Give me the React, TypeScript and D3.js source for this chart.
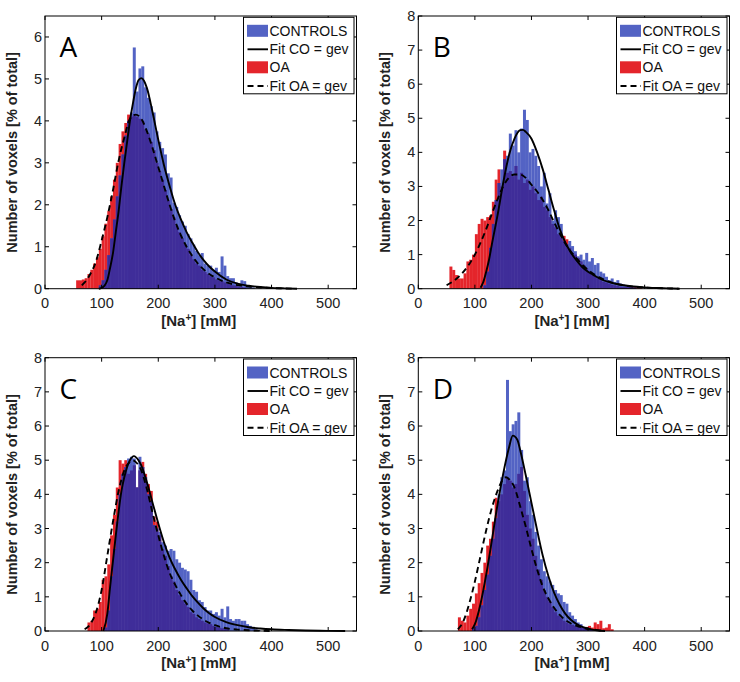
import React from "react";
import * as d3 from "d3";

// ---------- data ----------
const BIN = 5;
const xTicks = [0, 100, 200, 300, 400, 500];
const panelLetters = ["A", "B", "C", "D"];
const yMaxes = [6.5, 8, 8, 8];
const yTicksA = [0, 1, 2, 3, 4, 5, 6];
const yTicksBCD = [0, 1, 2, 3, 4, 5, 6, 7, 8];
const legendLabels = ["CONTROLS", "Fit CO = gev", "OA", "Fit OA = gev"];

// Panel A
const aCoStart = 95;
const aCoVals = [0.08, 0.2, 0.45, 0.8, 1.2, 1.65, 2.2, 2.7, 3.2, 3.65, 4.0, 4.2, 5.75, 4.7, 5.25, 5.3, 4.8, 4.55, 4.35, 4.2, 3.75, 3.5, 3.35, 3.2, 2.75, 2.65, 2.05, 1.95, 1.75, 1.6, 1.5, 1.3, 1.2, 1.05, 0.9, 0.8, 0.85, 0.6, 0.55, 0.55, 0.45, 0.5, 0.4, 0.77, 0.55, 0.3, 0.25, 0.25, 0.15, 0.12, 0.2, 0.18, 0.05, 0.04, 0.03];
const aOaStart = 55;
const aOaVals = [0.2, 0.2, 0.22, 0.25, 0.35, 0.45, 0.6, 0.75, 0.95, 1.25, 1.55, 1.85, 2.2, 2.6, 3.0, 3.45, 3.75, 3.95, 4.15, 4.1, 4.15, 4.1, 4.05, 4.0, 3.8, 3.7, 3.5, 3.3, 3.0, 2.8, 2.6, 2.35, 2.1, 1.9, 1.7, 1.5, 1.35, 1.2, 1.05, 0.95, 0.8, 0.7, 0.6, 0.55, 0.45, 0.4, 0.35, 0.3, 0.27, 0.22, 0.2, 0.18, 0.15, 0.12, 0.1, 0.08, 0.07, 0.05, 0.04, 0.03];
const aCoFitX = [95, 100, 105, 110, 115, 120, 125, 130, 135, 140, 145, 150, 155, 160, 165, 170, 175, 180, 190, 200, 210, 220, 230, 240, 250, 260, 270, 280, 290, 300, 320, 340, 360, 380, 400, 420, 445];
const aCoFitY = [0, 0.02, 0.07, 0.2, 0.5, 0.85, 1.35, 1.85, 2.45, 3.0, 3.5, 4.0, 4.4, 4.75, 4.97, 5.02, 4.95, 4.78, 4.2, 3.55, 2.95, 2.45, 2.0, 1.65, 1.35, 1.1, 0.87, 0.68, 0.53, 0.41, 0.22, 0.12, 0.07, 0.04, 0.02, 0.01, 0];
const aOaFitX = [65, 70, 80, 90, 100, 110, 120, 130, 140, 150, 160, 170, 180, 190, 200, 210, 220, 230, 240, 250, 260, 270, 280, 290, 300, 320, 340, 360, 380, 400, 420, 440];
const aOaFitY = [0.08, 0.15, 0.35, 0.65, 1.15, 1.7, 2.35, 3.05, 3.6, 4.05, 4.15, 4.05, 3.75, 3.35, 2.9, 2.45, 2.0, 1.6, 1.27, 1.0, 0.78, 0.6, 0.46, 0.35, 0.27, 0.15, 0.085, 0.05, 0.03, 0.015, 0.008, 0];

// Panel B
const bCoStart = 115;
const bCoVals = [0.1, 0.5, 1.2, 1.9, 2.6, 3.1, 3.5, 3.8, 3.9, 4.55, 4.2, 4.65, 4.0, 4.7, 5.25, 4.95, 4.0, 4.1, 3.9, 3.6, 3.0, 3.4, 2.5, 2.8, 2.0, 2.3, 2.1, 1.9, 1.4, 1.3, 1.4, 1.25, 1.1, 0.95, 1.0, 0.85, 1.05, 0.8, 0.9, 0.7, 0.75, 0.5, 0.45, 0.35, 0.25, 0.3, 0.2, 0.25, 0.15, 0.12, 0.1, 0.06, 0.04, 0.03];
const bOaStart = 55;
const bOaVals = [0.65, 0.55, 0.4, 0.3, 0.3, 0.45, 0.8, 0.85, 1.0, 1.6, 1.9, 2.05, 2.0, 2.1, 2.15, 2.55, 3.2, 3.5, 3.0, 4.05, 3.4, 3.45, 3.3, 3.6, 3.2, 3.4, 3.1, 3.2, 2.9, 3.0, 2.8, 2.6, 2.7, 2.4, 2.3, 2.1, 1.9, 1.8, 1.6, 1.5, 1.55, 1.45, 1.2, 1.05, 1.0, 0.9, 0.8, 0.7, 0.6, 0.5, 0.4, 0.35, 0.3, 0.25, 0.2, 0.18, 0.15, 0.12, 0.1, 0.08, 0.06, 0.05, 0.05, 0.06, 0.07, 0.07, 0.04, 0.03];
const bCoFitX = [110, 115, 120, 125, 130, 140, 150, 160, 170, 180, 185, 190, 200, 210, 220, 230, 240, 250, 260, 270, 280, 290, 300, 310, 320, 340, 360, 380, 400, 420, 440, 462];
const bCoFitY = [0.03, 0.2, 0.5, 0.85, 1.3, 2.15, 3.1, 3.9, 4.4, 4.65, 4.66, 4.6, 4.4, 4.0, 3.5, 2.9, 2.3, 1.75, 1.35, 1.05, 0.82, 0.63, 0.5, 0.4, 0.3, 0.18, 0.11, 0.065, 0.04, 0.02, 0.01, 0];
const bOaFitX = [50, 60, 70, 80, 90, 100, 110, 120, 130, 140, 150, 160, 170, 180, 190, 200, 210, 220, 230, 240, 250, 260, 270, 280, 290, 300, 310, 320, 340, 360, 380, 400, 420, 440, 460];
const bOaFitY = [0.1, 0.2, 0.33, 0.5, 0.72, 1.0, 1.35, 1.75, 2.2, 2.62, 3.0, 3.25, 3.35, 3.35, 3.25, 3.05, 2.85, 2.6, 2.3, 1.95, 1.62, 1.32, 1.08, 0.88, 0.7, 0.55, 0.43, 0.33, 0.19, 0.11, 0.06, 0.035, 0.02, 0.01, 0];

// Panel C
const cCoStart = 105;
const cCoVals = [0.1, 0.6, 1.6, 2.4, 3.2, 4.0, 4.6, 4.8, 5.05, 5.1, 5.05, 4.2, 5.1, 4.8, 4.5, 4.0, 3.8, 3.1, 3.0, 2.9, 2.6, 2.5, 2.35, 2.4, 2.35, 2.1, 2.0, 1.85, 1.8, 1.75, 1.5, 1.2, 1.15, 0.9, 0.85, 0.7, 0.6, 0.6, 0.5, 0.55, 0.45, 0.65, 0.4, 0.72, 0.35, 0.3, 0.35, 0.35, 0.3, 0.3, 0.2, 0.15, 0.1, 0.05, 0.03];
const cOaStart = 75;
const cOaVals = [0.25, 0.3, 0.6, 0.65, 0.85, 1.5, 1.6, 1.95, 2.8, 3.4, 4.2, 5.0, 4.9, 5.0, 4.6, 4.7, 4.85, 4.2, 4.7, 4.95, 4.6, 4.3, 4.1, 3.35, 3.2, 2.8, 2.4, 2.2, 1.9, 1.6, 1.45, 1.2, 1.05, 0.9, 0.8, 0.7, 0.55, 0.5, 0.4, 0.35, 0.3, 0.25, 0.22, 0.2, 0.15, 0.12, 0.1, 0.08, 0.06, 0.05];
const cCoFitX = [103, 110, 115, 120, 125, 130, 135, 140, 145, 150, 157, 165, 170, 180, 190, 200, 210, 220, 230, 240, 250, 260, 270, 280, 290, 300, 320, 340, 360, 380, 400, 430, 460, 500, 530];
const cCoFitY = [0, 0.5, 1.3, 2.05, 2.8, 3.5, 4.1, 4.5, 4.8, 5.0, 5.12, 5.0, 4.85, 4.35, 3.75, 3.15, 2.6, 2.15, 1.8, 1.5, 1.25, 1.02, 0.83, 0.66, 0.52, 0.41, 0.26, 0.17, 0.11, 0.075, 0.05, 0.03, 0.015, 0.005, 0];
const cOaFitX = [70, 80, 90, 100, 110, 120, 130, 140, 150, 155, 160, 170, 180, 190, 200, 210, 220, 230, 240, 250, 260, 270, 280, 290, 300, 320, 340, 360, 380, 400];
const cOaFitY = [0.05, 0.2, 0.55, 1.2, 2.2, 3.2, 4.1, 4.7, 4.95, 5.0, 4.95, 4.7, 4.15, 3.45, 2.8, 2.2, 1.7, 1.35, 1.05, 0.8, 0.6, 0.45, 0.33, 0.24, 0.17, 0.08, 0.04, 0.02, 0.01, 0];

// Panel D
const dCoStart = 95;
const dCoVals = [0.08, 0.15, 0.4, 0.75, 1.2, 1.65, 2.2, 2.7, 3.3, 4.0, 4.5, 4.7, 7.35, 5.85, 6.05, 6.15, 6.4, 5.3, 4.4, 4.5, 3.8, 3.4, 2.9, 2.5, 2.1, 1.75, 1.6, 1.45, 1.35, 1.2, 1.1, 1.05, 0.85, 0.8, 0.55, 0.45, 0.35, 0.25, 0.2, 0.12, 0.08, 0.05, 0.03];
const dOaStart = 70;
const dOaVals = [0.4, 0.3, 0.25, 0.45, 0.65, 0.8, 1.1, 1.4, 1.7, 2.0, 2.5, 2.7, 3.2, 3.9, 3.8, 4.0, 4.3, 4.5, 4.4, 4.2, 4.3, 4.6, 4.8, 4.1, 3.4, 3.0, 2.7, 2.2, 1.8, 1.5, 1.2, 1.0, 0.85, 0.7, 0.55, 0.45, 0.4, 0.3, 0.25, 0.2, 0.18, 0.15, 0.12, 0.15, 0.1, 0.12, 0.15, 0.1, 0.25, 0.2, 0.3, 0.08, 0.1, 0.2, 0.05];
const dCoFitX = [95, 100, 110, 120, 130, 140, 150, 160, 167, 175, 180, 190, 200, 210, 220, 230, 240, 250, 260, 270, 280, 290, 300, 315, 330];
const dCoFitY = [0.05, 0.2, 0.8, 1.65, 2.65, 3.7, 4.6, 5.35, 5.72, 5.6, 5.3, 4.55, 3.75, 2.95, 2.2, 1.6, 1.12, 0.77, 0.5, 0.32, 0.2, 0.12, 0.07, 0.02, 0];
const dOaFitX = [70, 80, 90, 100, 110, 120, 130, 140, 150, 155, 160, 170, 180, 190, 200, 210, 220, 230, 240, 250, 260, 270, 280, 290, 300, 315, 330];
const dOaFitY = [0.05, 0.3, 0.8, 1.45, 2.2, 2.95, 3.6, 4.1, 4.45, 4.5, 4.45, 4.2, 3.65, 3.05, 2.4, 1.8, 1.3, 0.95, 0.68, 0.47, 0.32, 0.22, 0.15, 0.1, 0.06, 0.03, 0];

// ---------- styling ----------
const RED = "#e4252b";
const BLUE = "#5363c4";
const PURPLE = "#3f2d99";
const TICK_FONT = "'Liberation Sans', Arial, sans-serif";

type PanelData = {
  letter: string;
  yMax: number;
  yTicks: number[];
  coStart: number;
  coVals: number[];
  oaStart: number;
  oaVals: number[];
  coFitX: number[];
  coFitY: number[];
  oaFitX: number[];
  oaFitY: number[];
};

const panels: PanelData[] = [
  { letter: panelLetters[0], yMax: yMaxes[0], yTicks: yTicksA, coStart: aCoStart, coVals: aCoVals, oaStart: aOaStart, oaVals: aOaVals, coFitX: aCoFitX, coFitY: aCoFitY, oaFitX: aOaFitX, oaFitY: aOaFitY },
  { letter: panelLetters[1], yMax: yMaxes[1], yTicks: yTicksBCD, coStart: bCoStart, coVals: bCoVals, oaStart: bOaStart, oaVals: bOaVals, coFitX: bCoFitX, coFitY: bCoFitY, oaFitX: bOaFitX, oaFitY: bOaFitY },
  { letter: panelLetters[2], yMax: yMaxes[2], yTicks: yTicksBCD, coStart: cCoStart, coVals: cCoVals, oaStart: cOaStart, oaVals: cOaVals, coFitX: cCoFitX, coFitY: cCoFitY, oaFitX: cOaFitX, oaFitY: cOaFitY },
  { letter: panelLetters[3], yMax: yMaxes[3], yTicks: yTicksBCD, coStart: dCoStart, coVals: dCoVals, oaStart: dOaStart, oaVals: dOaVals, coFitX: dCoFitX, coFitY: dCoFitY, oaFitX: dOaFitX, oaFitY: dOaFitY },
];

const frames = [
  { left: 45, top: 16, right: 356.5, bottom: 288.7 },
  { left: 418.3, top: 16, right: 729.5, bottom: 288.7 },
  { left: 45, top: 357.7, right: 356.5, bottom: 631 },
  { left: 418.3, top: 357.7, right: 729.5, bottom: 631 },
];

function Panel({ p, f }: { p: PanelData; f: { left: number; top: number; right: number; bottom: number } }) {
  const x = d3.scaleLinear().domain([0, 550]).range([f.left, f.right]);
  const y = d3.scaleLinear().domain([0, p.yMax]).range([f.bottom, f.top]);
  const co = p.coVals.map((v, i) => ({ x0: p.coStart + i * BIN, v }));
  const oa = p.oaVals.map((v, i) => ({ x0: p.oaStart + i * BIN, v }));
  const oaMap = new Map(oa.map((b) => [b.x0, b.v]));
  const overlap = co.map((b) => ({ x0: b.x0, v: Math.min(b.v, oaMap.get(b.x0) ?? 0) }));
  const line = d3
    .line<[number, number]>()
    .x((d) => x(d[0]))
    .y((d) => y(d[1]))
    .curve(d3.curveMonotoneX);
  const coFit = line(p.coFitX.map((v, i) => [v, p.coFitY[i]] as [number, number])) || "";
  const oaFit = line(p.oaFitX.map((v, i) => [v, p.oaFitY[i]] as [number, number])) || "";
  const bar = (b: { x0: number; v: number }, color: string, key: string) => (
    <rect key={key} x={x(b.x0)} y={y(b.v)} width={x(b.x0 + BIN) - x(b.x0) + 0.15} height={Math.max(0, y(0) - y(b.v))} fill={color} />
  );
  const TL = 4;
  const lg = { left: f.right - 113, top: f.top + 1.3, w: 110.5, h: 76.5 };
  const rows = [13.5, 32, 50, 68.7];
  return (
    <g>
      {oa.map((b, i) => bar(b, RED, "r" + i))}
      {co.map((b, i) => bar(b, BLUE, "b" + i))}
      {overlap.map((b, i) => bar(b, PURPLE, "p" + i))}
      <path d={coFit} fill="none" stroke="#000" strokeWidth={1.9} />
      <path d={oaFit} fill="none" stroke="#000" strokeWidth={1.9} strokeDasharray="6,4" />
      {/* axes box */}
      <rect x={f.left} y={f.top} width={f.right - f.left} height={f.bottom - f.top} fill="none" stroke="#000" strokeWidth={1} />
      {xTicks.map((t) => (
        <g key={"xt" + t}>
          <line x1={x(t)} x2={x(t)} y1={f.bottom} y2={f.bottom - TL} stroke="#000" />
          <line x1={x(t)} x2={x(t)} y1={f.top} y2={f.top + TL} stroke="#000" />
          <text x={x(t)} y={f.bottom + 19.5} textAnchor="middle" fontFamily={TICK_FONT} fontSize={14.5} fill="#222">
            {t}
          </text>
        </g>
      ))}
      {p.yTicks.map((t) => (
        <g key={"yt" + t}>
          <line x1={f.left} x2={f.left + TL} y1={y(t)} y2={y(t)} stroke="#000" />
          <line x1={f.right} x2={f.right - TL} y1={y(t)} y2={y(t)} stroke="#000" />
          <text x={f.left - 3} y={y(t) + 5} textAnchor="end" fontFamily={TICK_FONT} fontSize={14.5} fill="#222">
            {t}
          </text>
        </g>
      ))}
      {/* letter */}
      <text x={f.left + 14.5} y={f.top + 41} fontFamily="'Open Sans', 'DejaVu Sans', sans-serif" fontSize={28} fill="#000">
        {p.letter}
      </text>
      {/* legend */}
      <rect x={lg.left} y={lg.top} width={lg.w} height={lg.h} fill="#fff" stroke="#000" strokeWidth={1} />
      <rect x={lg.left + 3.5} y={lg.top + rows[0] - 6} width={21} height={12} fill={BLUE} />
      <line x1={lg.left + 4} x2={lg.left + 24.5} y1={lg.top + rows[1]} y2={lg.top + rows[1]} stroke="#000" strokeWidth={1.9} />
      <rect x={lg.left + 3.5} y={lg.top + rows[2] - 6} width={21} height={12} fill={RED} />
      <line x1={lg.left + 4} x2={lg.left + 24.5} y1={lg.top + rows[3]} y2={lg.top + rows[3]} stroke="#000" strokeWidth={1.9} strokeDasharray="6,4" />
      {legendLabels.map((l, i) => (
        <text key={l} x={lg.left + 26} y={lg.top + rows[i] + 5} fontFamily={TICK_FONT} fontSize={14} fill="#111">
          {l}
        </text>
      ))}
      {/* axis labels */}
      <text
        transform={`translate(${f.left - 28},${(f.top + f.bottom) / 2}) rotate(-90)`}
        textAnchor="middle"
        fontFamily={TICK_FONT}
        fontWeight="bold"
        fontSize={14.5}
        fill="#222"
      >
        Number of voxels [% of total]
      </text>
      <text x={(f.left + f.right) / 2 - 2} y={f.bottom + 37} textAnchor="middle" fontFamily={TICK_FONT} fontWeight="bold" fontSize={15} fill="#222">
        [Na<tspan baselineShift="super" fontSize={10}>+</tspan>] [mM]
      </text>
    </g>
  );
}

export default function App() {
  return (
    <svg width={740} height={682} style={{ position: "absolute", left: 0, top: 0, background: "#fff" }}>
      <rect width={740} height={682} fill="#fff" />
      {panels.map((p, i) => (
        <Panel key={p.letter} p={p} f={frames[i]} />
      ))}
    </svg>
  );
}
